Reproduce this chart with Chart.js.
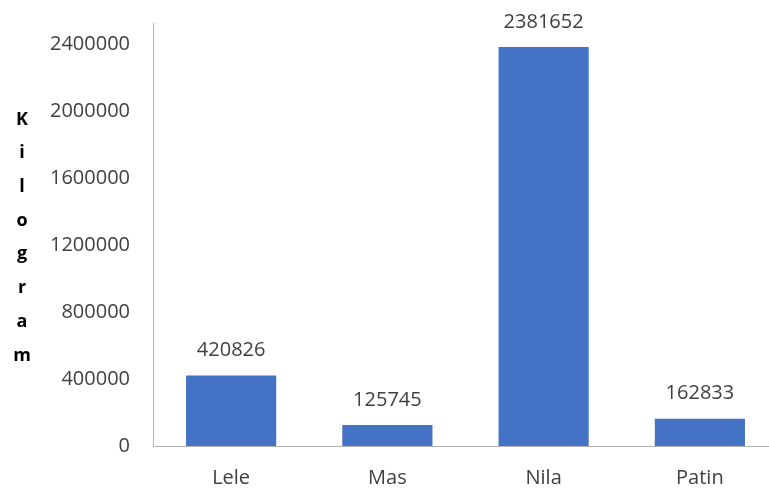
<!DOCTYPE html>
<html>
<head>
<meta charset="utf-8">
<script src="https://cdn.jsdelivr.net/npm/chart.js@4/dist/chart.umd.min.js"></script>
<style>
  html, body { margin: 0; padding: 0; background: #fff; overflow: hidden; }
  #wrap { width: 778px; height: 491px; position: relative; }
</style>
</head>
<body>
<div id="wrap"><canvas id="fishChart"></canvas></div>
<script>
// data
const categories = ['Lele', 'Mas', 'Nila', 'Patin'];
const kilograms = [420826, 125745, 2381652, 162833];
const yTicks = [0, 400000, 800000, 1200000, 1600000, 2000000, 2400000];
const yTitle = 'Kilogram';

const textColor = '#404040';
const fontFamily = '"Open Sans", "Liberation Sans", sans-serif';

// value labels above each bar
const valueLabels = {
    id: 'valueLabels',
    afterDatasetsDraw(chart) {
        const ctx = chart.ctx;
        const meta = chart.getDatasetMeta(0);
        ctx.save();
        ctx.font = '20px ' + fontFamily;
        ctx.fillStyle = textColor;
        ctx.textAlign = 'center';
        ctx.textBaseline = 'middle';
        meta.data.forEach((bar, i) => {
            ctx.fillText(String(kilograms[i]), bar.x, bar.y - 25);
        });
        ctx.restore();
    }
};

// axis title written one letter per line, not rotated
const stackedTitle = {
    id: 'stackedTitle',
    afterDraw(chart) {
        const ctx = chart.ctx;
        const area = chart.chartArea;
        const step = 33.7;
        const letters = yTitle.split('');
        const mid = (area.top + area.bottom) / 2 + 3;
        const start = mid - step * (letters.length - 1) / 2;
        ctx.save();
        ctx.font = 'bold 18px ' + fontFamily;
        ctx.fillStyle = '#000';
        ctx.textAlign = 'center';
        ctx.textBaseline = 'middle';
        letters.forEach((ch, i) => {
            ctx.fillText(ch, 22, start + i * step);
        });
        ctx.restore();
    }
};

new Chart(document.getElementById('fishChart'), {
    type: 'bar',
    data: {
        labels: categories,
        datasets: [{
            label: yTitle,
            data: kilograms,
            backgroundColor: '#4472C4',
            barPercentage: 0.577,
            categoryPercentage: 1.0
        }]
    },
    options: {
        responsive: true,
        maintainAspectRatio: false,
        animation: false,
        layout: { padding: { top: 23, right: 0, bottom: 0, left: 0 } },
        plugins: {
            legend: { display: false },
            tooltip: { enabled: false }
        },
        scales: {
            x: {
                grid: { display: false, drawTicks: false },
                border: { display: true, color: '#b4b4b4', width: 1 },
                afterFit(scale) {
                    scale.height = 45;
                },
                ticks: {
                    color: textColor,
                    font: { family: fontFamily, size: 20 },
                    padding: 20
                }
            },
            y: {
                min: 0,
                max: 2525000,
                grid: { display: false, drawTicks: false },
                border: { display: true, color: '#b4b4b4', width: 1 },
                afterBuildTicks(scale) {
                    scale.ticks = yTicks.map(v => ({ value: v }));
                },
                afterFit(scale) {
                    scale.width = 153;
                    scale.paddingTop = 0;
                    scale.paddingBottom = 0;
                },
                ticks: {
                    color: textColor,
                    font: { family: fontFamily, size: 20 },
                    padding: 23,
                    callback: value => String(value)
                }
            }
        }
    },
    plugins: [valueLabels, stackedTitle]
});
</script>
</body>
</html>
